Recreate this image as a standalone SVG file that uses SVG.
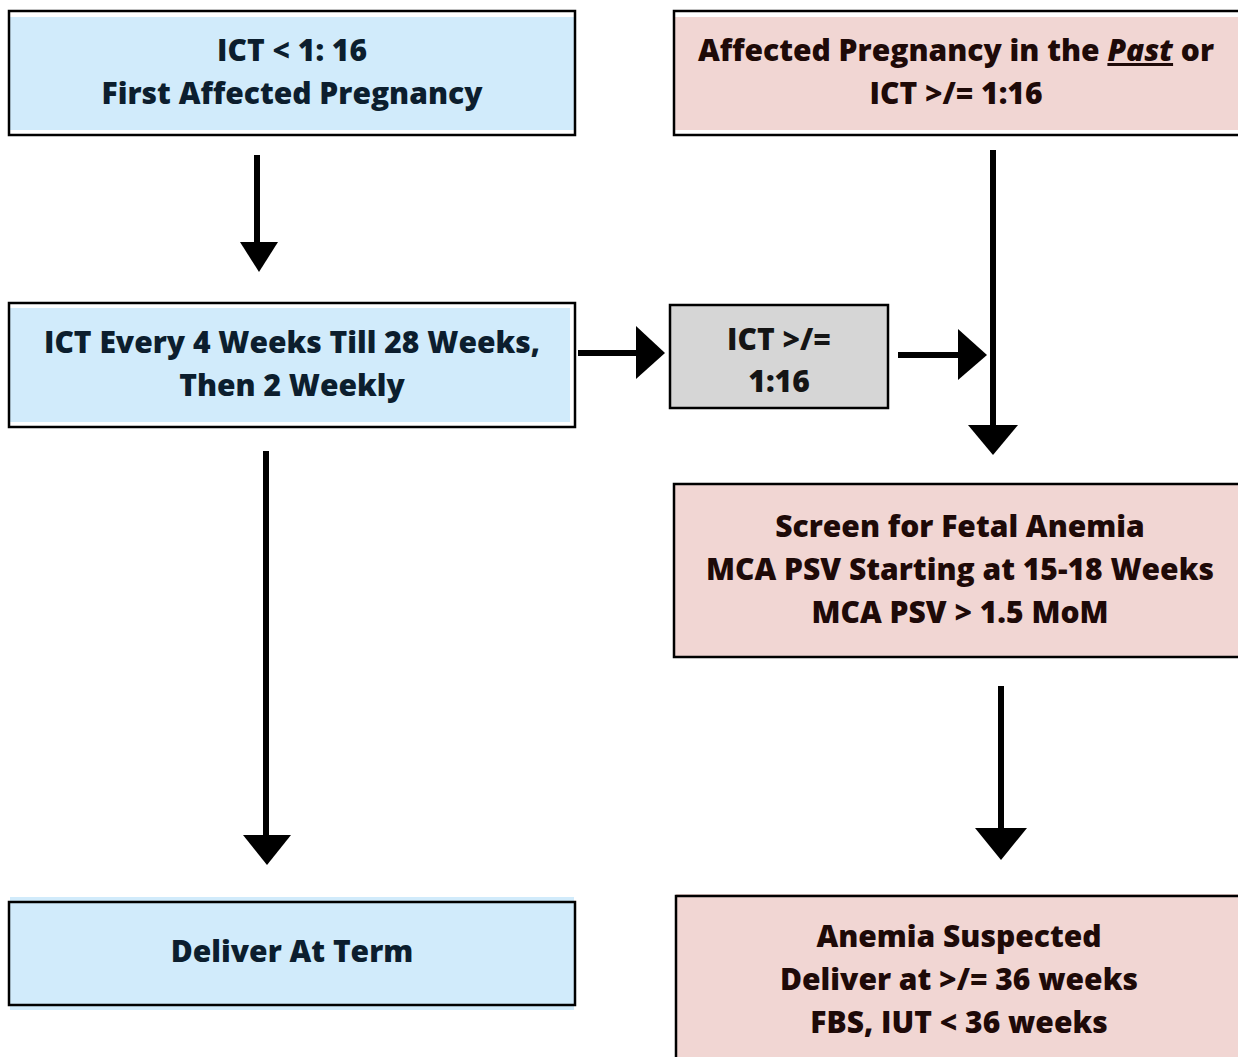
<svg xmlns="http://www.w3.org/2000/svg" width="1238" height="1057" viewBox="0 0 1238 1057">
<defs>
<style>
.blue{fill:#D1EBFB}
.pink{fill:#F1D6D3}
.grey{fill:#D6D6D6}
.frame{fill:none;stroke:#000;stroke-width:2.5}
text{font-family:"Open Sans","Liberation Sans",sans-serif;font-weight:800;font-size:30px;text-anchor:middle}
.tb{fill:#0C1E2E}
.tp{fill:#1E0A08}
.tg{fill:#151515}
.line{stroke:#000;stroke-width:6;fill:none}
.head{fill:#000}
</style>
</defs>
<rect width="1238" height="1057" fill="#fff"/>
<g id="node-first">
<rect class="blue" x="10" y="17" width="564" height="113"/>
<rect class="frame" x="9" y="11" width="566" height="124"/>
<text class="tb" x="292" y="61">ICT &lt; 1: 16</text>
<text class="tb" x="292" y="104">First Affected Pregnancy</text>
</g>
<g id="node-past">
<rect class="pink" x="675" y="17" width="563" height="113"/>
<rect class="frame" x="674" y="11" width="570" height="124"/>
<text class="tp" x="956" y="61">Affected Pregnancy in the <tspan font-style="italic" text-decoration="underline">Past</tspan> or</text>
<text class="tp" x="956" y="104">ICT &gt;/= 1:16</text>
</g>
<g id="node-ict-every">
<rect class="blue" x="10" y="308" width="560" height="114"/>
<rect class="frame" x="9" y="303" width="566" height="124"/>
<text class="tb" x="292" y="353">ICT Every 4 Weeks Till 28 Weeks,</text>
<text class="tb" x="292" y="396">Then 2 Weekly</text>
</g>
<g id="node-ict-116">
<rect class="grey" x="670" y="305" width="218" height="103"/>
<rect class="frame" x="670" y="305" width="218" height="103"/>
<text class="tg" x="779" y="350">ICT &gt;/=</text>
<text class="tg" x="779" y="392">1:16</text>
</g>
<g id="node-screen">
<rect class="pink" x="674" y="484" width="570" height="173"/>
<rect class="frame" x="674" y="484" width="570" height="173"/>
<text class="tp" x="960" y="537">Screen for Fetal Anemia</text>
<text class="tp" x="960" y="580">MCA PSV Starting at 15-18 Weeks</text>
<text class="tp" x="960" y="623">MCA PSV &gt; 1.5 MoM</text>
</g>
<g id="node-deliver-term">
<rect class="blue" x="10" y="897" width="564" height="113"/>
<rect class="frame" x="9" y="902" width="566" height="103"/>
<text class="tb" x="292" y="962">Deliver At Term</text>
</g>
<g id="node-anemia">
<rect class="pink" x="676" y="894" width="568" height="170"/>
<rect class="frame" x="676" y="896" width="570" height="170"/>
<text class="tp" x="959" y="947">Anemia Suspected</text>
<text class="tp" x="959" y="990">Deliver at &gt;/= 36 weeks</text>
<text class="tp" x="959" y="1033">FBS, IUT &lt; 36 weeks</text>
</g>
<g id="connectors">
<line class="line" x1="257" y1="155" x2="257" y2="244"/>
<polygon class="head" points="240,242 278,242 259,272"/>
<line class="line" x1="993" y1="150" x2="993" y2="427"/>
<polygon class="head" points="968,425 1018,425 993,455"/>
<line class="line" x1="266" y1="451" x2="266" y2="837"/>
<polygon class="head" points="243,835 291,835 267,865"/>
<line class="line" x1="1001" y1="686" x2="1001" y2="830"/>
<polygon class="head" points="975,828 1027,828 1001,860"/>
<line class="line" x1="578" y1="353" x2="638" y2="353"/>
<polygon class="head" points="636,326 636,379 665,353"/>
<line class="line" x1="898" y1="355" x2="960" y2="355"/>
<polygon class="head" points="958,329 958,380 987,355"/>
</g>
</svg>
